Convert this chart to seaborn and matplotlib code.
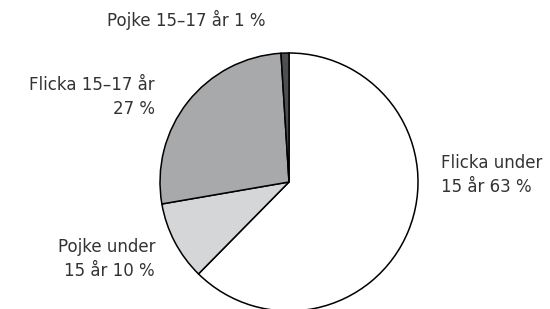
import seaborn as sns
import matplotlib.pyplot as plt

categories = ["Flicka under 15 år", "Pojke under 15 år", "Flicka 15–17 år", "Pojke 15–17 år"]
shares = [63, 10, 27, 1]
labels = ["Flicka under\n15 år 63 %", "Pojke under\n15 år 10 %", "Flicka 15–17 år\n27 %", "Pojke 15–17 år 1 %"]
colors = ["#ffffff", "#d5d6d8", "#a8a9ab", "#4e4e50"]

sns.set_style("white")
plt.rcParams["font.family"] = ["DejaVu Sans"]

W, H = 550, 309
fig = plt.figure(figsize=(W / 100, H / 100), dpi=100)
cx, cy, r = 289, 182, 129
ax = fig.add_axes([(cx - r) / W, (H - cy - r) / H, 2 * r / W, 2 * r / H])

ax.pie(
    shares,
    colors=colors,
    startangle=90,
    counterclock=False,
    radius=1,
    wedgeprops=dict(edgecolor="black", linewidth=1.1),
)
ax.set_xlim(-1, 1)
ax.set_ylim(-1, 1)
ax.axis("off")

def px(x, y):
    return (x - cx) / r, (cy - y) / r

txt = dict(fontsize=12, color="#333333", linespacing=1.45, va="center", clip_on=False)
ax.text(*px(441, 175), labels[0], ha="left", **txt)
ax.text(*px(155, 97), labels[2], ha="right", **txt)
ax.text(*px(155, 259), labels[1], ha="right", **txt)
ax.text(*px(186, 20), labels[3], ha="center", **txt)

fig.savefig("out.png", dpi=100)
